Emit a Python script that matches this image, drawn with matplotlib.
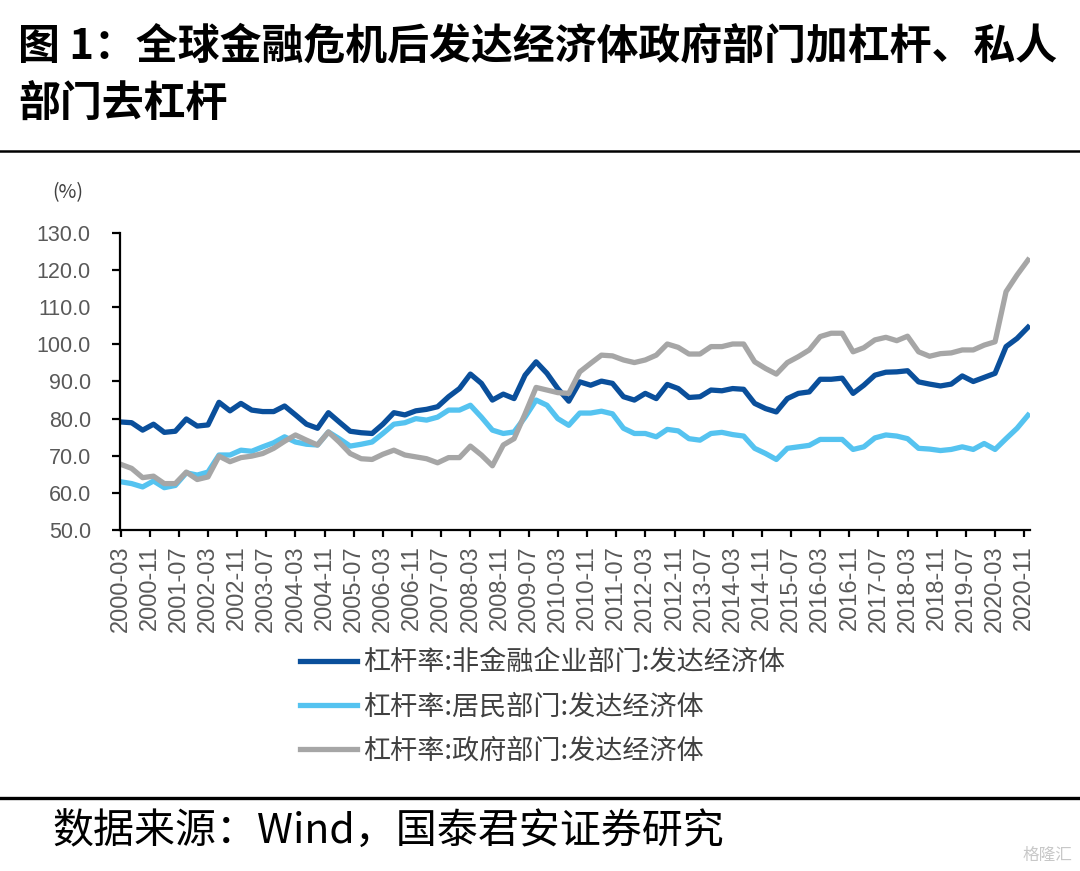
import pandas as pd
import matplotlib
matplotlib.use("Agg")
import matplotlib.pyplot as plt

plt.rcParams['font.family'] = ['Noto Sans CJK SC', 'DejaVu Sans']

# quarterly observations, 2000-03 .. 2020-12
dates = pd.date_range("2000-03-01", "2020-12-01", freq="3MS")

corp = [79.1, 78.9, 76.9, 78.5, 76.3, 76.6, 79.9, 78.0, 78.3, 84.4, 82.1, 84.1,
        82.3, 81.9, 81.9, 83.4, 81.0, 78.5, 77.4, 81.6, 79.1, 76.6, 76.2, 76.0,
        78.5, 81.6, 81.0, 82.1, 82.5, 83.2, 85.9, 88.1,
        92.0, 89.5, 85.0, 86.6, 85.4, 91.7, 95.3, 92.2, 88.1, 84.7, 89.9, 89.0,
        90.1, 89.5, 85.9, 85.0, 86.8, 85.4, 89.2, 88.1, 85.7, 85.9, 87.7, 87.5,
        88.1,
        87.9, 84.1, 82.7, 81.8, 85.4, 86.8, 87.2, 90.6, 90.6, 90.9, 86.8, 89.0,
        91.7, 92.5, 92.6, 92.9, 89.9, 89.3, 88.8, 89.3, 91.5, 90.0, 91.1, 92.2,
        99.4, 101.6, 104.6]

household = [63.0, 62.5, 61.6, 63.2, 61.4, 62.0, 65.4, 64.8, 65.6, 70.2, 70.2, 71.5,
             71.2, 72.4, 73.5, 75.1, 73.7, 73.1, 72.9, 76.4, 74.6, 72.6, 73.1, 73.7,
             76.0, 78.5, 78.9, 80.0, 79.6, 80.4, 82.3, 82.3,
             83.6, 80.4, 76.9, 76.0, 76.4, 80.4, 85.0, 83.6, 80.0, 78.2, 81.5, 81.5,
             82.0, 81.3, 77.4, 76.0, 76.0, 75.1, 77.1, 76.7, 74.6, 74.2, 76.0, 76.3,
             75.7,
             75.3, 72.0, 70.6, 69.0, 72.0, 72.4, 72.8, 74.4, 74.4, 74.4, 71.7, 72.4,
             74.8, 75.6, 75.3, 74.6, 72.0, 71.8, 71.4, 71.7, 72.4, 71.7, 73.3, 71.7,
             74.6, 77.4, 80.9]

gov = [67.7, 66.6, 64.1, 64.5, 62.5, 62.5, 65.6, 63.6, 64.3, 69.9, 68.4, 69.5,
       69.9, 70.6, 72.0, 73.9, 75.6, 74.2, 72.9, 76.4, 73.7, 70.6, 69.2, 69.0,
       70.4, 71.5, 70.2, 69.7, 69.2, 68.1, 69.5, 69.5,
       72.6, 70.2, 67.3, 72.9, 74.6, 81.3, 88.4, 87.7, 87.0, 86.8, 92.6, 94.9,
       97.1, 96.9, 95.8, 95.1, 95.8, 97.1, 100.1, 99.2, 97.4, 97.4, 99.4, 99.4,
       100.1,
       100.1, 95.3, 93.5, 92.0, 95.1, 96.7, 98.5, 102.1, 103.0, 103.0, 98.0, 99.1,
       101.2, 101.9, 101.0, 102.2, 98.0, 96.8, 97.5, 97.7, 98.5, 98.5, 99.8, 100.7,
       114.2, 118.7, 122.7]

tick_labels = ["2000-03", "2000-11", "2001-07", "2002-03", "2002-11", "2003-07",
               "2004-03", "2004-11", "2005-07", "2006-03", "2006-11", "2007-07",
               "2008-03", "2008-11", "2009-07", "2010-03", "2010-11", "2011-07",
               "2012-03", "2012-11", "2013-07", "2014-03", "2014-11", "2015-07",
               "2016-03", "2016-11", "2017-07", "2018-03", "2018-11", "2019-07",
               "2020-03", "2020-11"]

labels = ["杠杆率:非金融企业部门:发达经济体",
          "杠杆率:居民部门:发达经济体",
          "杠杆率:政府部门:发达经济体"]
colors = ["#0A4F9B", "#55C3F0", "#A6A6A6"]

fig = plt.figure(figsize=(10.8, 8.71), dpi=100)
ax = fig.add_axes([120 / 1080, 1 - 530 / 871, 910 / 1080, 297 / 871])

for vals, lab, c in zip([corp, household, gov], labels, colors):
    ax.plot(dates, vals, color=c, lw=3.8, label=lab, solid_joinstyle="round")

ax.set_ylim(50, 130)
ax.set_yticks(range(50, 131, 10))
ax.set_yticklabels([f"{v:.1f}" for v in range(50, 131, 10)])
ax.set_xlim(pd.Timestamp("2000-02-25"), pd.Timestamp("2020-12-18"))
ax.set_xticks(pd.to_datetime(tick_labels))
ax.set_xticklabels(tick_labels, rotation=90)

for s in ["top", "right"]:
    ax.spines[s].set_visible(False)
for s in ["left", "bottom"]:
    ax.spines[s].set_linewidth(1.6)
ax.tick_params(axis="y", length=6, width=1.6, pad=15, labelsize=15.5,
               labelcolor="#595959", labelfontfamily=["Liberation Sans"])
ax.tick_params(axis="x", length=5, width=1.6, pad=6, labelsize=17,
               labelcolor="#595959", labelfontfamily=["Liberation Sans"])

fig.text(68 / 1080, 1 - 193 / 871, "(%)", ha="center", va="center",
         fontsize=14, color="#404040")

ax.legend(loc="upper left", bbox_to_anchor=(300 / 1080, 1 - 649 / 871),
          bbox_transform=fig.transFigure, frameon=False, fontsize=19.5,
          handlelength=2.1, handletextpad=0.25, labelspacing=0.64,
          borderpad=0, borderaxespad=0, labelcolor="#404040")

# title and source
fig.text(18 / 1080, 1 - 47 / 871, "图 1：全球金融危机后发达经济体政府部门加杠杆、私人",
         fontsize=30.2, fontweight="bold", va="center", ha="left")
fig.text(18 / 1080, 1 - 105 / 871, "部门去杠杆",
         fontsize=30.2, fontweight="bold", va="center", ha="left")
fig.add_artist(plt.Line2D([0, 1], [1 - 151 / 871, 1 - 151 / 871],
                          color="black", lw=1.8))
fig.add_artist(plt.Line2D([0, 1], [1 - 798 / 871, 1 - 798 / 871],
                          color="black", lw=2.4))
fig.text(52 / 1080, 1 - 832 / 871, "数据来源：Wind，国泰君安证券研究",
         fontsize=29.5, va="center", ha="left")
fig.text(1072 / 1080, 1 - 855 / 871, "格隆汇", fontsize=12, color="#C8C8C8",
         va="center", ha="right")

fig.savefig("out.png", dpi=100)
